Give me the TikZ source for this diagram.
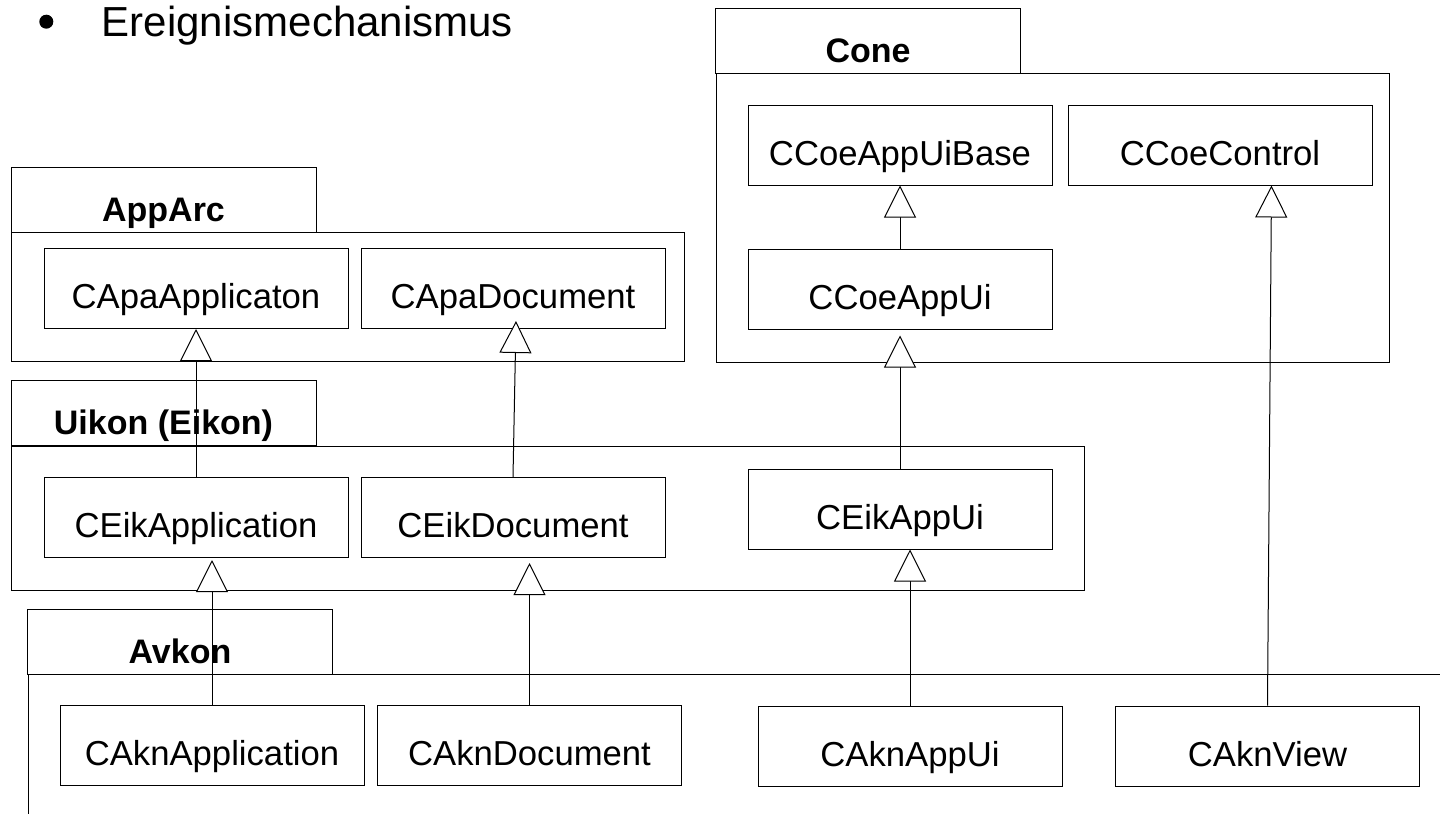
\documentclass[tikz,border=0pt]{standalone}
\usepackage{fontspec}
\setmainfont{Liberation Sans}
\usetikzlibrary{arrows.meta,calc}
\begin{document}
\begin{tikzpicture}[x=0.75pt,y=-0.75pt,
  ln/.style={line width=0.75pt},
  cls/.style={draw, ln, inner sep=0pt, minimum width=228pt, text height=45pt, text depth=15pt, font=\fontsize{26}{30}\selectfont},
  tabbox/.style={draw, ln, inner sep=0pt, minimum width=228.75pt, text height=40.5pt, text depth=8.25pt, font=\bfseries\fontsize{25.5}{30}\selectfont},
  pkgbody/.style={draw, ln, inner sep=0pt, anchor=north west},
  inh/.style={ln, -{Triangle[length=24pt,width=24pt,fill=white]}}
]
\useasboundingbox (0,0) rectangle (1440,814);

% title
\node[circle, fill=black, inner sep=0pt, minimum size=10.5pt] (bullet) at (46.3,21.7) {};
\node[anchor=base west, inner sep=0pt, font=\fontsize{31.5}{36}\selectfont] (title) at (101.7,36) {Ereignismechanismus};

% package bodies
\node[pkgbody, minimum width=504.75pt, minimum height=96.75pt] (apparcBody) at (11,232) {};
\node[pkgbody, minimum width=804.75pt, minimum height=108pt] (uikonBody) at (11,446) {};
\node[pkgbody, minimum width=504.75pt, minimum height=216.75pt] (coneBody) at (716,73) {};
\coordinate (avkR) at (1440,674);
\coordinate (avkB) at (28,814);
\draw[ln] (avkR) -| (avkB);

% package tabs
\node[tabbox] (apparcTab) at (163.5,200) {AppArc};
\node[tabbox] (uikonTab) at (163.5,413) {Uikon (Eikon)};
\node[tabbox] (coneTab) at (868,40.5) {Cone};
\node[tabbox] (avkonTab) at (180,641.5) {Avkon};

% classes
\node[cls] (capaapp) at (196,288.5) {CApaApplicaton};
\node[cls] (capadoc) at (513,288.5) {CApaDocument};
\node[cls] (ceikapp) at (196,517.5) {CEikApplication};
\node[cls] (ceikdoc) at (513,517.5) {CEikDocument};
\node[cls] (ceikappui) at (900,509) {CEikAppUi};
\node[cls] (ccoebase) at (900,145) {CCoeAppUiBase};
\node[cls] (ccoectrl) at (1220,145) {CCoeControl};
\node[cls] (ccoeappui) at (900,289) {CCoeAppUi};
\node[cls] (caknapp) at (212,745.5) {CAknApplication};
\node[cls] (cakndoc) at (529.5,745.5) {CAknDocument};
\node[cls] (caknappui) at (910,746) {CAknAppUi};
\node[cls] (caknview) at (1267.5,746) {CAknView};

% inheritance
\draw[inh] (ceikapp.north) -- (ceikapp.north |- capaapp.south);
\draw[inh] (ceikdoc.north) -- ($(ceikdoc.north |- capadoc.south)+(3,-8)$);
\draw[inh] (ceikappui.north) -- ($(ceikappui.north |- ccoeappui.south)+(0,6)$);
\draw[inh] (ccoeappui.north) -- (ccoeappui.north |- ccoebase.south);
\draw[inh] (caknapp.north) -- ($(caknapp.north |- ceikapp.south)+(0,2)$);
\draw[inh] (cakndoc.north) -- ($(cakndoc.north |- ceikdoc.south)+(0,5)$);
\draw[inh] (caknappui.north) -- (caknappui.north |- ceikappui.south);
\draw[inh] (caknview.north) -- ($(caknview.north |- ccoectrl.south)+(4,0)$);
\end{tikzpicture}
\end{document}
